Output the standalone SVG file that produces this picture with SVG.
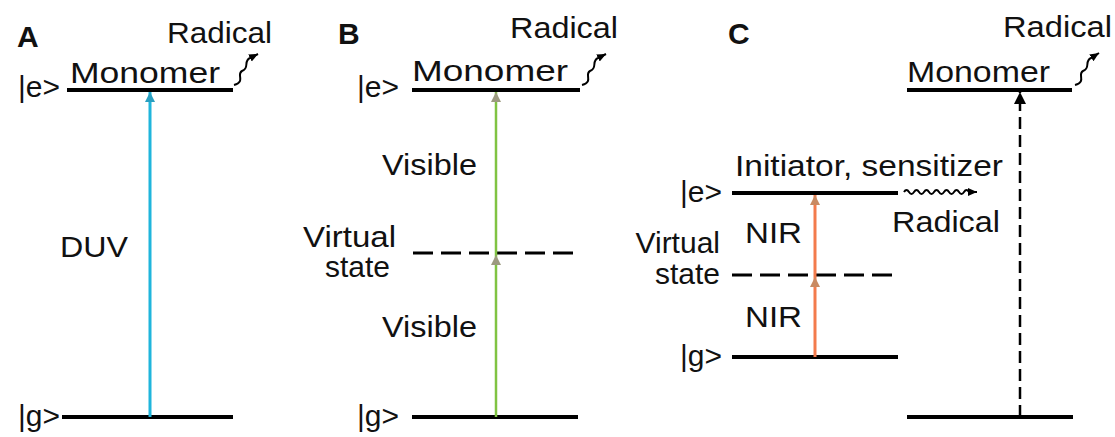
<svg xmlns="http://www.w3.org/2000/svg" width="1115" height="437" viewBox="0 0 1115 437">
<style>
text{font-family:"Liberation Sans",Arial,sans-serif;font-size:30px;fill:#111}
.lbl{font-weight:bold;font-size:30px}
.lvl{stroke:#000;stroke-width:4;fill:none}
.dash{stroke:#000;stroke-width:3;fill:none;stroke-dasharray:20 8}
.sq{stroke:#000;stroke-width:2;fill:none}
</style>
<defs>
<marker id="ahCyan" markerUnits="userSpaceOnUse" markerWidth="10" markerHeight="12" refX="10" refY="5" orient="auto"><path d="M0,0 L10,5 L0,10 Z" fill="#2a9fc0"/></marker>
<marker id="ahGray" markerUnits="userSpaceOnUse" markerWidth="10" markerHeight="12" refX="10" refY="5" orient="auto"><path d="M0,0 L10,5 L0,10 Z" fill="#9c9a80"/></marker>
<marker id="ahOr" markerUnits="userSpaceOnUse" markerWidth="10" markerHeight="12" refX="10" refY="5" orient="auto"><path d="M0,0 L10,5 L0,10 Z" fill="#c98a62"/></marker>
<marker id="ahBlk" markerUnits="userSpaceOnUse" markerWidth="12" markerHeight="14" refX="12" refY="6" orient="auto"><path d="M0,0 L12,6 L0,12 Z" fill="#000"/></marker>
<marker id="ahSm" markerUnits="userSpaceOnUse" markerWidth="9" markerHeight="10" refX="9" refY="4" orient="auto"><path d="M0,0 L9,4 L0,8 Z" fill="#000"/></marker>
</defs>
<rect width="1115" height="437" fill="#fff"/>

<g id="panelA">
<text class="lbl" x="17" y="47">A</text>
<g id="A-excited"><line class="lvl" x1="67" y1="90" x2="233" y2="90"/><text x="70" y="83" textLength="150" lengthAdjust="spacingAndGlyphs">Monomer</text><text x="18" y="97">|e&gt;</text></g>
<g id="A-radical"><text x="167" y="43" textLength="105" lengthAdjust="spacingAndGlyphs">Radical</text></g>
<g id="A-ground"><line class="lvl" x1="62" y1="417" x2="233" y2="417"/><text x="18" y="426">|g&gt;</text></g>
<text x="60" y="257" textLength="68" lengthAdjust="spacingAndGlyphs">DUV</text>
</g>

<g id="panelB">
<text class="lbl" x="338" y="44">B</text>
<g id="B-excited"><line class="lvl" x1="412" y1="90" x2="580" y2="90"/><text x="412" y="81" textLength="156" lengthAdjust="spacingAndGlyphs">Monomer</text><text x="357" y="97">|e&gt;</text></g>
<g id="B-radical"><text x="510" y="38" textLength="108" lengthAdjust="spacingAndGlyphs">Radical</text></g>
<g id="B-virtual"><line class="dash" x1="413" y1="253" x2="578" y2="253"/><text x="303" y="247" textLength="93" lengthAdjust="spacingAndGlyphs">Virtual</text><text x="325" y="277" textLength="65" lengthAdjust="spacingAndGlyphs">state</text></g>
<g id="B-ground"><line class="lvl" x1="412" y1="417" x2="578" y2="417"/><text x="357" y="426">|g&gt;</text></g>
<text x="382" y="175" textLength="95" lengthAdjust="spacingAndGlyphs">Visible</text>
<text x="382" y="337" textLength="95" lengthAdjust="spacingAndGlyphs">Visible</text>
</g>

<g id="panelC">
<text class="lbl" x="728" y="44">C</text>
<g id="C-monomer"><line class="lvl" x1="907" y1="90" x2="1072" y2="90"/><text x="907" y="82" textLength="143" lengthAdjust="spacingAndGlyphs">Monomer</text></g>
<g id="C-radical-top"><text x="1003" y="37" textLength="109" lengthAdjust="spacingAndGlyphs">Radical</text></g>
<g id="C-monomer-ground"><line class="lvl" x1="907" y1="417" x2="1073" y2="417"/></g>
<g id="C-excited"><line class="lvl" x1="732" y1="193" x2="898" y2="193"/><text x="735" y="176" textLength="268" lengthAdjust="spacingAndGlyphs">Initiator, sensitizer</text><text x="722" y="202" text-anchor="end">|e&gt;</text></g>
<g id="C-radical"><text x="892" y="232" textLength="108" lengthAdjust="spacingAndGlyphs">Radical</text></g>
<g id="C-virtual"><line class="dash" x1="732" y1="275" x2="898" y2="275"/><text x="720" y="253" text-anchor="end">Virtual</text><text x="720" y="284" text-anchor="end">state</text></g>
<g id="C-ground"><line class="lvl" x1="732" y1="357" x2="898" y2="357"/><text x="722" y="366" text-anchor="end">|g&gt;</text></g>
<text x="745" y="243" textLength="57" lengthAdjust="spacingAndGlyphs">NIR</text>
<text x="745" y="327" textLength="57" lengthAdjust="spacingAndGlyphs">NIR</text>
</g>

<g id="connectors">
<line x1="150" y1="417" x2="150" y2="92" stroke="#1fb5dc" stroke-width="3" marker-end="url(#ahCyan)"/>
<line x1="496" y1="417" x2="496" y2="255" stroke="#80c343" stroke-width="2.5" marker-end="url(#ahGray)"/>
<line x1="496" y1="255" x2="496" y2="92" stroke="#80c343" stroke-width="2.5" marker-end="url(#ahGray)"/>
<line x1="815" y1="357" x2="815" y2="277" stroke="#f37b4c" stroke-width="3" marker-end="url(#ahOr)"/>
<line x1="815" y1="277" x2="815" y2="195" stroke="#f37b4c" stroke-width="3" marker-end="url(#ahOr)"/>
<line x1="1020" y1="417" x2="1020" y2="92" stroke="#000" stroke-width="2.5" stroke-dasharray="12 6" marker-end="url(#ahBlk)"/>
<path class="sq" d="M904,192 q2.5,-4 5,0 t5,0 t5,0 t5,0 t5,0 t5,0 t5,0 t5,0 t5,0 t5,0 t5,0 t5,0 t5,0 l8,0" marker-end="url(#ahSm)"/>
<path class="sq" d="M234,85 C246,82 236,74 242,71 C250,68 243,61 250,58 L258,54" marker-end="url(#ahSm)"/>
<path class="sq" d="M582,85 C594,82 584,74 590,71 C598,68 591,61 598,58 L606,54" marker-end="url(#ahSm)"/>
<path class="sq" d="M1075,85 C1087,82 1077,74 1083,71 C1091,68 1084,61 1091,58 L1099,53" marker-end="url(#ahSm)"/>
</g>
</svg>
